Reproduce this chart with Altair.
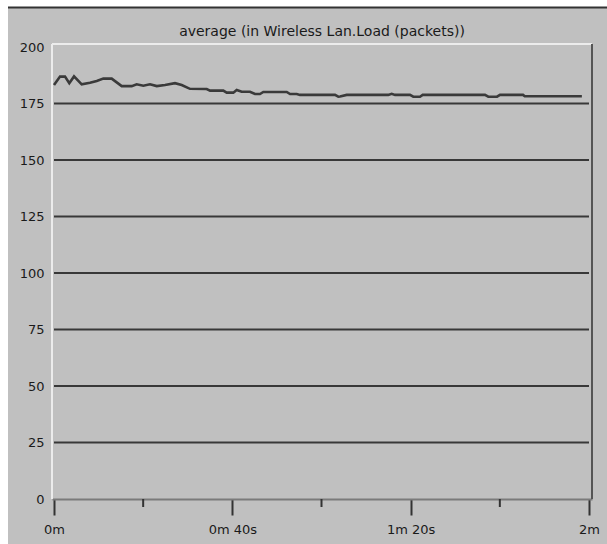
import altair as alt
import pandas as pd

# ---- data ----
t_sec = [0, 1.35, 2.47, 3.43, 4.49, 6.21, 8.07, 9.58, 11.06, 12.94, 15.19, 17.43,
         18.55, 20.03, 21.53, 23.04, 24.9, 27.14, 28.64, 30.5, 34.25, 35.0, 37.97,
         38.74, 40.22, 40.98, 42.1, 43.96, 45.08, 46.2, 46.95, 52.2, 52.94, 54.44,
         55.18, 63.03, 63.77, 64.15, 65.65, 74.98, 75.74, 76.49, 79.85, 80.59,
         82.09, 82.7, 96.67, 97.41, 99.37, 100.04, 105.2, 105.6, 118.4]
load = [183.2, 186.9, 186.9, 184.0, 187.0, 183.5, 184.2, 185.0, 186.0, 186.0, 182.7,
        182.7, 183.5, 182.9, 183.5, 182.7, 183.2, 184.0, 183.2, 181.5, 181.4, 180.7,
        180.7, 179.8, 179.8, 181.0, 180.2, 180.2, 179.2, 179.2, 180.1, 180.1, 179.2,
        179.2, 178.8, 178.8, 178.0, 178.1, 178.8, 178.8, 179.3, 178.8, 178.8, 178.0,
        178.0, 178.8, 178.8, 178.0, 178.0, 178.8, 178.8, 178.2, 178.2]
y_ticks = [0, 25, 50, 75, 100, 125, 150, 175, 200]
grid_vals = [25, 50, 75, 100, 125, 150, 175]
x_major = [0, 40, 80, 120]
x_labels = ["0m", "0m 40s", "1m 20s", "2m"]
x_minor = [20, 60, 100]
title_text = "average (in Wireless Lan.Load (packets))"

FONT = "DejaVu Sans"
W, H = 540, 455

df = pd.DataFrame({"t": t_sec, "v": load})
grid_df = pd.DataFrame({"g": grid_vals, "x0": [x_major[0]] * len(grid_vals),
                        "x1": [x_major[-1]] * len(grid_vals)})
minor_df = pd.DataFrame({"m": x_minor})
one = pd.DataFrame({"a": [0]})
title_df = pd.DataFrame({"txt": [title_text]})

x_scale = alt.Scale(domain=[-0.449, 120.673], nice=False, zero=False)
y_scale = alt.Scale(domain=[0, 201.33], nice=False)

label_expr = "''"
for v, l in reversed(list(zip(x_major, x_labels))):
    label_expr = f"datum.value == {v} ? '{l}' : ({label_expr})"

x_axis = alt.Axis(values=x_major, labelExpr=label_expr, title=None, grid=False,
                  tickSize=16, tickWidth=2, tickColor="#333333",
                  domainColor="#7a7a7a", domainWidth=2, labelPadding=8,
                  labelFont=FONT, labelFontSize=13, labelColor="#1a1a1a")
y_axis = alt.Axis(values=y_ticks, title=None, grid=False, ticks=False, domain=False,
                  labelPadding=8, labelFont=FONT, labelFontSize=13,
                  labelColor="#1a1a1a")

# decorations (panel edges, frame)
white_left = alt.Chart(one).mark_rect(color="white").encode(
    x=alt.value(-52), x2=alt.value(-44), y=alt.value(-44), y2=alt.value(H + 45))
white_top = alt.Chart(one).mark_rect(color="white").encode(
    x=alt.value(-52), x2=alt.value(W + 15), y=alt.value(-44), y2=alt.value(-37))
top_line = alt.Chart(one).mark_rule(color="#333333", strokeWidth=2).encode(
    x=alt.value(-44), x2=alt.value(W + 15), y=alt.value(-36.5))
frame_top = alt.Chart(one).mark_rule(color="#ececec", strokeWidth=2).encode(
    x=alt.value(0), x2=alt.value(W), y=alt.value(0))
frame_left = alt.Chart(one).mark_rule(color="#ececec", strokeWidth=2).encode(
    x=alt.value(0), y=alt.value(0), y2=alt.value(H))
frame_right = alt.Chart(one).mark_rule(color="#555555", strokeWidth=2).encode(
    x=alt.value(W), y=alt.value(0), y2=alt.value(H))

title = alt.Chart(title_df).mark_text(
    font=FONT, fontSize=14, color="#1a1a1a", align="center", baseline="middle"
).encode(text="txt:N", x=alt.value(W / 2), y=alt.value(-12))

grid = alt.Chart(grid_df).mark_rule(color="#383838", strokeWidth=2).encode(
    x=alt.X("x0:Q", scale=x_scale, axis=x_axis),
    x2="x1:Q",
    y=alt.Y("g:Q", scale=y_scale, axis=y_axis),
)

line = alt.Chart(df).mark_line(color="#3a3a3a", strokeWidth=2.6).encode(
    x=alt.X("t:Q", scale=x_scale),
    y=alt.Y("v:Q", scale=y_scale),
)

minor = alt.Chart(minor_df).mark_rule(color="#333333", strokeWidth=2).encode(
    x=alt.X("m:Q", scale=x_scale),
    y=alt.value(H),
    y2=alt.value(H + 8),
)

chart = alt.layer(
    white_left, white_top, top_line, frame_top, frame_left, frame_right,
    title, grid, line, minor
).properties(
    width=W, height=H,
    autosize=alt.AutoSizeParams(type="none"),
    padding={"left": 52, "top": 44, "right": 15, "bottom": 45},
    background="#c0c0c0",
).configure_view(stroke=None)

chart.save("out.html", embed_options={"renderer": "svg", "actions": False})
